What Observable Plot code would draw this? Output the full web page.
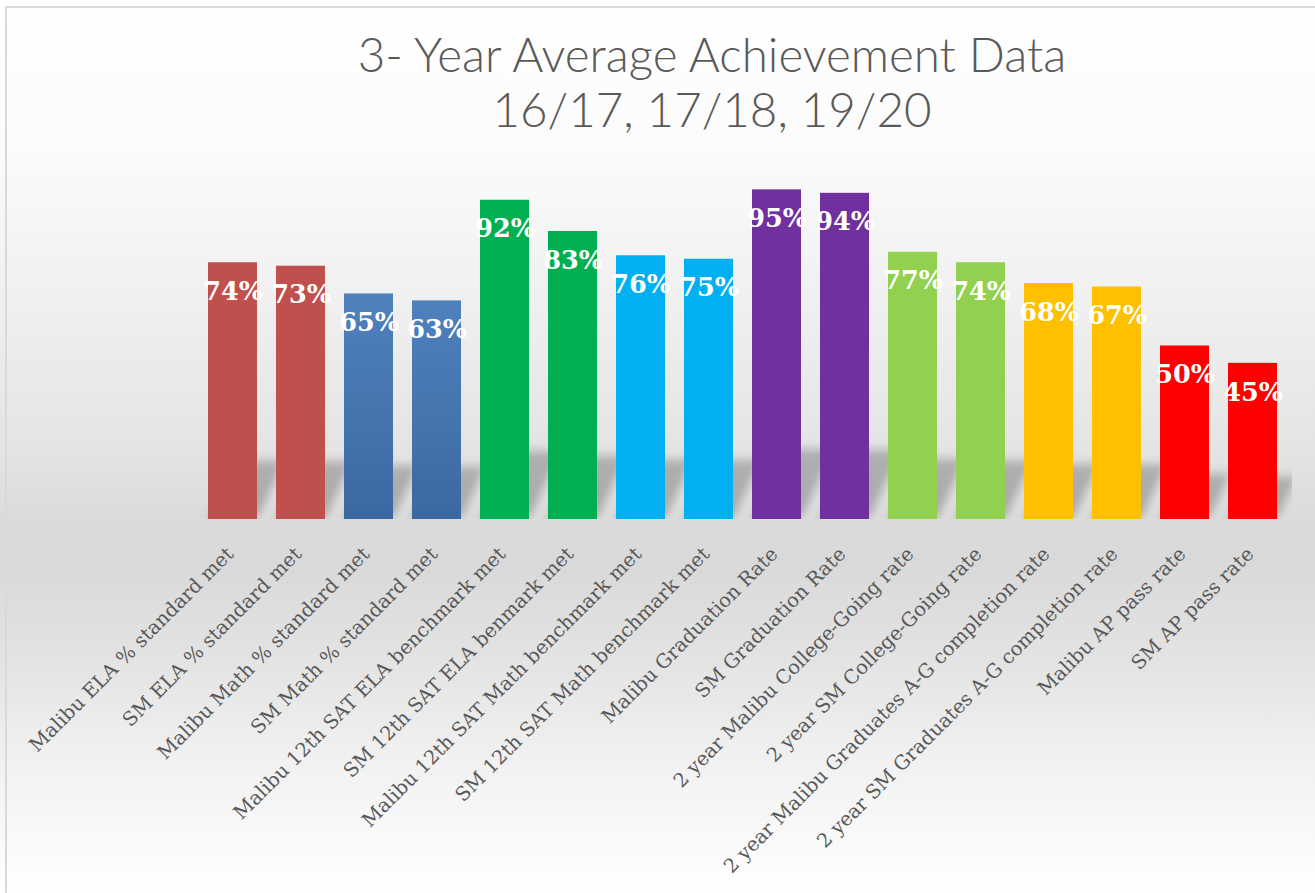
<!DOCTYPE html>
<html><head><meta charset="utf-8">
<script src="https://cdn.jsdelivr.net/npm/d3@7"></script>
<script src="https://cdn.jsdelivr.net/npm/@observablehq/plot@0.6"></script>
<style>
html,body{margin:0;padding:0;}
body{width:1315px;height:893px;overflow:hidden;position:relative;
background:linear-gradient(to bottom,#ffffff 0px,#fbfbfb 150px,#f0f0f0 300px,#e4e4e4 450px,#dbdbdb 519px,#d9d9d9 560px,#e2e2e2 650px,#f1f1f1 760px,#ffffff 893px);}
#frame{position:absolute;left:5px;top:6px;right:0;bottom:0;border-left:2px solid #d9d9d9;border-top:2px solid #d9d9d9;pointer-events:none}
#title{height:150px;box-sizing:border-box;padding-top:26px;padding-left:109px;text-align:center;font-family:Lato,"Open Sans",sans-serif;font-weight:300;font-size:47.5px;line-height:55px;color:#595959;white-space:nowrap}
#chart svg{display:block}
</style></head><body>
<div id="title">3- Year Average Achievement Data<br>16/17, 17/18, 19/20</div>
<div id="chart"></div>
<div id="frame"></div>
<script>
const categories = [
  "Malibu ELA % standard met",
  "SM ELA % standard met",
  "Malibu Math % standard met",
  "SM Math % standard met",
  "Malibu 12th SAT ELA benchmark met",
  "SM 12th SAT ELA benmark met",
  "Malibu 12th SAT Math benchmark met",
  "SM 12th SAT Math benchmark met",
  "Malibu Graduation Rate",
  "SM Graduation Rate",
  "2 year Malibu College-Going rate",
  "2 year SM College-Going rate",
  "2 year Malibu Graduates A-G completion rate",
  "2 year SM Graduates A-G completion rate",
  "Malibu AP pass rate",
  "SM AP pass rate"
];
const values = [74, 73, 65, 63, 92, 83, 76, 75, 95, 94, 77, 74, 68, 67, 50, 45];
const groups = [
  "ELA standard", "ELA standard", "Math standard", "Math standard",
  "SAT ELA", "SAT ELA", "SAT Math", "SAT Math",
  "Graduation", "Graduation", "College-Going", "College-Going",
  "A-G completion", "A-G completion", "AP pass", "AP pass"
];
const groupOrder = ["ELA standard", "Math standard", "SAT ELA", "SAT Math", "Graduation", "College-Going", "A-G completion", "AP pass"];
const groupColors = ["#C0504D", "url(#blueGrad)", "#00B050", "#00B0F0", "#7030A0", "#92D050", "#FFC000", "#FF0000"];

const data = categories.map((c, i) => ({label: c, value: values[i], group: groups[i]}));

const plot = Plot.plot({
  width: 1315,
  height: 743,
  marginTop: 22,
  marginBottom: 374,
  marginLeft: 188,
  marginRight: 18,
  style: {background: "transparent", color: "#595959", overflow: "visible"},
  x: {domain: categories, padding: 0.28, axis: null},
  y: {domain: [0, 100], axis: null},
  color: {domain: groupOrder, range: groupColors},
  marks: [
    Plot.barY(data, {x: "label", y1: 0, y2: d => 5 + 0.16 * d.value, fill: "#7a7a7a", fillOpacity: 0.5}),
    Plot.barY(data, {x: "label", y: "value", fill: "group"}),
    Plot.text(data, {x: "label", y: "value", text: d => d.value + "%", dy: 29, lineAnchor: "middle",
      fill: "white", fontSize: 25.5, fontWeight: "bold", fontFamily: "DejaVu Serif"}),
    Plot.text(data, {x: "label", frameAnchor: "bottom", text: "label", rotate: -45, textAnchor: "end", lineAnchor: "top",
      dx: -8, dy: 26, fontSize: 19.5, fontFamily: "DejaVu Serif", fill: "#595959"})
  ]
});
document.getElementById("chart").appendChild(plot);

const svg = d3.select(plot);
const y0 = plot.scale("y").apply(0);
const defs = svg.insert("defs", ":first-child");
const grad = defs.append("linearGradient").attr("id", "blueGrad").attr("x1", 0).attr("y1", 0).attr("x2", 0).attr("y2", 1);
grad.append("stop").attr("offset", "0%").attr("stop-color", "#4F81BD");
grad.append("stop").attr("offset", "100%").attr("stop-color", "#3C68A1");
defs.append("filter").attr("id", "shadowBlur").attr("x", "-50%").attr("y", "-50%").attr("width", "200%").attr("height", "200%")
  .append("feGaussianBlur").attr("stdDeviation", 5);
defs.append("clipPath").attr("id", "floorClip").append("rect")
  .attr("x", 0).attr("y", 0).attr("width", 1292).attr("height", y0);

const shNode = plot.querySelectorAll('g[aria-label="bar"]')[0];
if (shNode) {
  const wrap = document.createElementNS("http://www.w3.org/2000/svg", "g");
  wrap.setAttribute("clip-path", "url(#floorClip)");
  shNode.parentNode.insertBefore(wrap, shNode);
  wrap.appendChild(shNode);
  const prev = shNode.getAttribute("transform") || "";
  shNode.setAttribute("transform", `translate(0,${y0}) skewX(-25) translate(0,${-y0}) ${prev}`);
  shNode.setAttribute("filter", "url(#shadowBlur)");
}
</script>
</body></html>
